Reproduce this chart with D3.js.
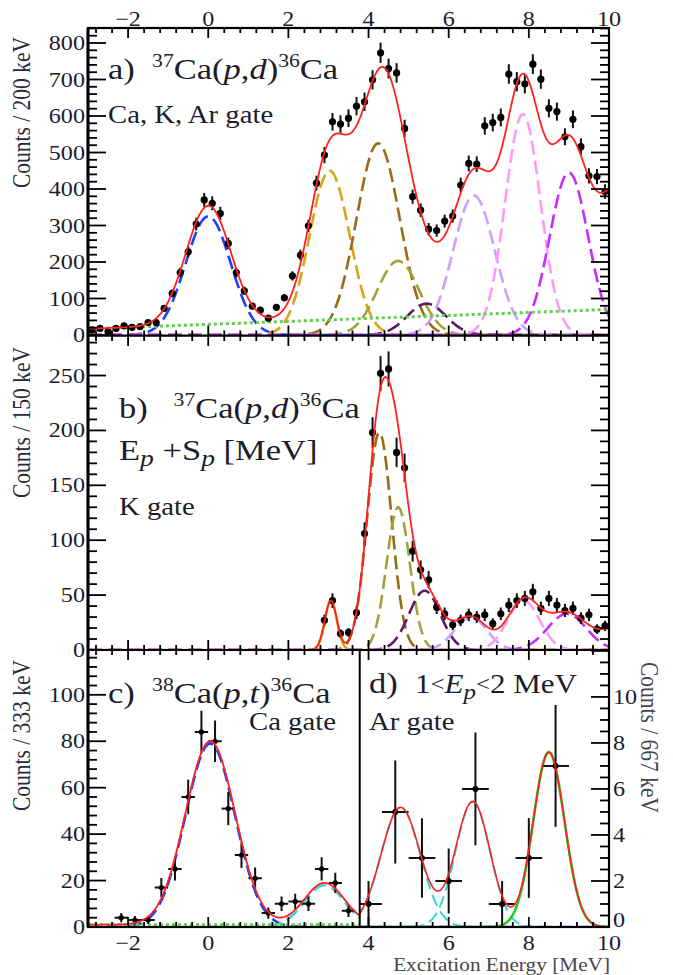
<!DOCTYPE html>
<html>
<head>
<meta charset="utf-8">
<script src="https://cdn.jsdelivr.net/npm/d3@7"></script>
<style>
  body { margin: 0; background: #fff; }
  text { font-family: "Liberation Serif", "Times New Roman", serif; fill: #1d1d2b; white-space: pre; }
</style>
</head>
<body>
<div id="graph"></div>
<script>
var W = 673, H = 975, sx = 1.15

// a) 37Ca(p,d) Ca,K,Ar gate, 200 keV bins
var energyA = [-2.9,-2.7,-2.5,-2.3,-2.1,-1.9,-1.7,-1.5,-1.3,-1.1,-0.9,-0.7,-0.5,-0.3,-0.1,0.1,0.3,0.5,0.7,0.9,
  1.1,1.3,1.5,1.7,1.9,2.1,2.3,2.5,2.7,2.9,3.1,3.3,3.5,3.7,3.9,4.1,4.3,4.5,4.7,4.9,
  5.1,5.3,5.5,5.7,5.9,6.1,6.3,6.5,6.7,6.9,7.1,7.3,7.5,7.7,7.9,8.1,8.3,8.5,8.7,8.9,9.1,9.3,9.5,9.7,9.9]
var countsA = [14,18,9,18,25,21,23,34,34,73,114,171,228,304,370,361,333,251,171,121,
  79,68,46,76,102,162,219,299,416,493,584,578,594,627,639,699,773,730,718,566,
  379,342,290,286,312,326,411,470,468,573,582,596,715,694,688,742,701,621,612,543,591,516,436,434,393]
var colorA = ['#1f3fff','#d9a514','#9a6b12','#a5a13a','#5e1a63','#c9a0ff','#fb9bf8','#c92cff']
var centerA = [0.0, 3.03, 4.24, 4.74, 5.45, 6.63, 7.85, 9.0]
var heightA = [325, 450, 525, 203, 86, 382, 605, 445]
var sigmaA = [0.56, 0.5, 0.54, 0.52, 0.48, 0.52, 0.44, 0.48]
var tailA = [10.35, 345, 0.55]     // peak above 10 MeV, only in the total fit
var bgA = [17, 70]                 // linear background at -3 and 10 MeV

// b) 37Ca(p,d) K gate
var energyB = [2.9,3.1,3.3,3.5,3.7,3.9,4.1,4.3,4.5,4.7,4.9,5.1,5.3,5.5,5.7,5.9,6.1,6.3,6.5,6.7,
  6.9,7.1,7.3,7.5,7.7,7.9,8.1,8.3,8.5,8.7,8.9,9.1,9.3,9.5,9.7,9.9]
var countsB = [27,45,15,16,34,106,198,252,256,180,166,90,73,64,39,33,23,27,32,30,
  32,24,33,41,45,47,53,38,47,41,36,38,29,32,19,22]
var colorB = ['#d9a514','#9a6b12','#a5a13a','#5e1a63','#c9a0ff','#fb9bf8','#c92cff']
var centerB = [3.06, 4.27, 4.74, 5.4, 6.55, 7.87, 8.95]
var heightB = [45, 198, 130, 54, 30, 45, 33]
var sigmaB = [0.15, 0.306, 0.29, 0.39, 0.4, 0.4, 0.48]
var tailB = [10.4, 22, 0.55]

// c) 38Ca(p,t) Ca gate, 333 keV bins
var energyC = [-2.17,-1.83,-1.5,-1.17,-0.83,-0.5,-0.17,0.17,0.5,0.83,1.17,1.5,1.83,2.17,2.5,2.83,3.17,3.5]
var countsC = [4,3,3,17,25,56,84,80,51,31,21,6,10,11,10,25,19,7]
var colorC = ['#1f3fff','#33dede']
var centerC = [0.05, 2.9]
var heightC = [79, 18]
var sigmaC = [0.62, 0.5]
var bgC = [1, 1]

// d) 1<Ep<2 MeV Ar gate, 667 keV bins
var energyD = [4, 4.667, 5.333, 6, 6.667, 7.333, 8, 8.667]
var countsD = [1, 5, 3, 2, 6, 1, 3, 7]
var colorD = ['#2fd6d6','#2fd6d6','#22cc22']
var centerD = [4.8, 6.6, 8.5]
var heightD = [5.2, 5.45, 7.6]
var sigmaD = [0.49, 0.43, 0.39]

var xTickLabels = [-2, 0, 2, 4, 6, 8, 10]
var yTicksA = [0,100,200,300,400,500,600,700,800]
var yTicksB = [0,50,100,150,200,250]
var yTicksC = [0,20,40,60,80,100]
var yTicksD = [0,2,4,6,8,10]

var x = d3.scaleLinear().domain([-3, 10]).range([88, 609])
var yA = d3.scaleLinear().domain([0, 840]).range([335, 28.4])
var yB = d3.scaleLinear().domain([0, 286]).range([650, 336])
var yC = d3.scaleLinear().domain([0, 119.3]).range([927, 650])
var yD = d3.scaleLinear().domain([0, 12.04]).range([927, 650])
var xCut = 3.78

var svg = d3.select('#graph').append('svg').attr('width', W).attr('height', H)
var defs = svg.append('defs')

function gauss(c, h, s){ return function(e){ return h * Math.exp(-(e - c) * (e - c) / (2 * s * s)) } }

function clip(id, x0, y0, x1, y1){
  defs.append('clipPath').attr('id', id).append('rect')
    .attr('x', x0).attr('y', y0).attr('width', x1 - x0).attr('height', y1 - y0)
  return 'url(#' + id + ')'
}

var grid = d3.range(-3, 10.0001, 0.02)

function curve(g, y, f, color, dash, w){
  g.append('path').datum(grid)
    .attr('d', d3.line().x(x).y(function(e){ return y(f(e)) }))
    .attr('fill', 'none').attr('stroke', color).attr('stroke-width', w)
    .attr('stroke-dasharray', dash)
}

function points(g, y, xs, ys, half, r){
  var sel = g.selectAll(null).data(xs.map(function(e, i){ return [e, ys[i]] })).enter().append('g')
  sel.append('line')
    .attr('x1', function(d){ return x(d[0]) }).attr('x2', function(d){ return x(d[0]) })
    .attr('y1', function(d){ return y(d[1] - Math.sqrt(d[1])) })
    .attr('y2', function(d){ return y(d[1] + Math.sqrt(d[1])) })
    .attr('stroke', '#111').attr('stroke-width', 2)
  if (half) sel.append('line')
    .attr('x1', function(d){ return x(d[0] - half) }).attr('x2', function(d){ return x(d[0] + half) })
    .attr('y1', function(d){ return y(d[1]) }).attr('y2', function(d){ return y(d[1]) })
    .attr('stroke', '#111').attr('stroke-width', 2)
  sel.append('circle').attr('cx', function(d){ return x(d[0]) }).attr('cy', function(d){ return y(d[1]) })
    .attr('r', r).attr('fill', '#000')
}

function text(x0, y0, size, parts, anchor, rot, color){
  var t = svg.append('text')
    .attr('transform', 'translate(' + x0 + ',' + y0 + ') scale(' + sx + ',1)' + (rot ? ' rotate(' + rot + ')' : ''))
    .attr('text-anchor', anchor || 'start')
    .style('font-size', size + 'px')
  if (color) t.style('fill', color)
  var shift = 0
  parts.forEach(function(p){
    var s = typeof p === 'string' ? {t: p} : p
    var target = s.sup ? -0.4 * size : s.sub ? 0.2 * size : -(s.up || 0)
    var k = s.sz || (s.sup ? 0.63 : s.sub ? 0.8 : 1)
    t.append('tspan').text(s.t)
      .attr('dy', target - shift)
      .style('font-size', k * size + 'px')
      .style('font-style', s.i ? 'italic' : null)
    shift = target
  })
  return t
}

// ---- panel a
var gA = svg.append('g').attr('clip-path', clip('ca', 88, 28, 609, 336))
var fA = centerA.map(function(c, i){ return gauss(c, heightA[i], sigmaA[i]) })
var bgFA = d3.scaleLinear().domain([-3, 10]).range(bgA)
var tFA = gauss(tailA[0], tailA[1], tailA[2])
fA.forEach(function(f, i){ curve(gA, yA, f, colorA[i], '14,6', 2.6) })
curve(gA, yA, bgFA, '#66cc55', '3,3', 3)
points(gA, yA, energyA, countsA, 0, 3.6)
curve(gA, yA, function(e){ return d3.sum(fA, function(f){ return f(e) }) + bgFA(e) + tFA(e) }, '#ff2020', null, 1.8)

// ---- panel b
var gB = svg.append('g').attr('clip-path', clip('cb', 88, 336, 609, 650))
var fB = centerB.map(function(c, i){ return gauss(c, heightB[i], sigmaB[i]) })
var tFB = gauss(tailB[0], tailB[1], tailB[2])
fB.forEach(function(f, i){ curve(gB, yB, f, colorB[i], i ? '14,6' : null, 2.6) })
points(gB, yB, energyB, countsB, 0, 3.6)
curve(gB, yB, function(e){ return d3.sum(fB, function(f){ return f(e) }) + tFB(e) }, '#ff2020', null, 1.8)

// ---- panel c
var gC = svg.append('g').attr('clip-path', clip('cc', 88, 650, x(xCut), 927))
var fC = centerC.map(function(c, i){ return gauss(c, heightC[i], sigmaC[i]) })
var bgFC = d3.scaleLinear().domain([-3, 10]).range(bgC)
fC.forEach(function(f, i){ curve(gC, yC, f, colorC[i], '14,6', 2.6) })
curve(gC, yC, bgFC, '#66cc55', '3,3', 3)
points(gC, yC, energyC, countsC, 0.167, 2.6)
curve(gC, yC, function(e){ return d3.sum(fC, function(f){ return f(e) }) + bgFC(e) }, '#ff2020', null, 1.8)

// ---- panel d
var gD = svg.append('g').attr('clip-path', clip('cd', x(xCut), 650, 609, 927))
var fD = centerD.map(function(c, i){ return gauss(c, heightD[i], sigmaD[i]) })
curve(gD, yD, fC[0], colorC[0], '14,6', 2.6)
fD.forEach(function(f, i){ curve(gD, yD, f, colorD[i], i < 2 ? '12,6' : null, i < 2 ? 2 : 2.6) })
points(gD, yD, energyD, countsD, 0.333, 3)
curve(gD, yD, function(e){ return d3.sum(fD, function(f){ return f(e) }) }, '#ff2020', null, 1.6)

// ---- frames and ticks
var frame = svg.append('g').attr('stroke', '#000').attr('fill', 'none')
function tick(x1, y1, x2, y2){ frame.append('line').attr('x1', x1).attr('y1', y1).attr('x2', x2).attr('y2', y2).attr('stroke-width', 1.8) }

function xTicks(yPix, dir, lo, hi){
  d3.range(-2.8, 10.001, 0.4).forEach(function(v){
    if (v < lo - 1e-6 || v > hi + 1e-6) return
    var major = Math.abs(v / 2 - Math.round(v / 2)) < 1e-6
    tick(x(v), yPix, x(v), yPix + dir * (major ? 10 : 5))
  })
}
function yTicks(y, xPix, dir, major, minor){
  var top = y.domain()[1]
  d3.range(0, top + 1e-6, minor).forEach(function(v){
    var isMajor = Math.abs(v / major - Math.round(v / major)) < 1e-6
    tick(xPix, y(v), xPix + dir * (isMajor ? 18 : 9), y(v))
  })
}

xTicks(28, 1, -3, 10); xTicks(335.5, -1, -3, 10)
xTicks(336, 1, -3, 10); xTicks(650, -1, -3, 10)
xTicks(650, 1, -3, 10); xTicks(927, -1, -3, 10)
yTicks(yA, 88, 1, 100, 20); yTicks(yA, 609, -1, 100, 20)
yTicks(yB, 88, 1, 50, 10); yTicks(yB, 609, -1, 50, 10)
yTicks(yC, 88, 1, 20, 4)
yTicks(yD, 609, -1, 2, 0.5)

frame.append('rect').attr('x', 88).attr('y', 28).attr('width', 521).attr('height', 899).attr('stroke-width', 2.2)
frame.append('line').attr('x1', 88).attr('x2', 609).attr('y1', 335.7).attr('y2', 335.7).attr('stroke-width', 2.2)
frame.append('line').attr('x1', 88).attr('x2', 609).attr('y1', 650).attr('y2', 650).attr('stroke-width', 2.2)
frame.append('line').attr('x1', x(xCut)).attr('x2', x(xCut)).attr('y1', 650).attr('y2', 927).attr('stroke-width', 2)
frame.append('line').attr('x1', 88).attr('x2', 88).attr('y1', 28).attr('y2', 927).attr('stroke-width', 3)

// ---- tick labels
function num(v){ return v < 0 ? '\u2212' + (-v) : String(v) }
xTickLabels.forEach(function(v){
  text(x(v), 26, 21, [num(v)], 'middle')
  text(x(v), 950, 21, [num(v)], 'middle')
})
yTicksA.forEach(function(v){ text(85, yA(v) + 7, 21, [num(v)], 'end') })
yTicksB.forEach(function(v){ text(85, yB(v) + 7, 21, [num(v)], 'end') })
yTicksC.forEach(function(v){ text(85, yC(v) + 7, 21, [num(v)], 'end') })
yTicksD.forEach(function(v){ text(613, yD(v) + (v ? 7 : -0.5), 21, [num(v)], 'start') })

// ---- axis titles
text(30, 37, 21.5, ['Counts / 200 keV'], 'end', -90, '#2a2a38')
text(30, 347, 21.5, ['Counts / 150 keV'], 'end', -90, '#2a2a38')
text(30, 660, 21.5, ['Counts / 333 keV'], 'end', -90, '#2a2a38')
text(641, 662, 21.5, ['Counts / 667 keV'], 'start', 90, '#45454f')
text(610, 971, 18.5, ['Excitation Energy [MeV]'], 'end', 0, '#4a4548')

// ---- panel labels
text(108, 79, 30, ['a)', '  ', {t: '37', sup: 1}, 'Ca(', {t: 'p', i: 1}, ',', {t: 'd', i: 1}, ')', {t: '36', sup: 1}, 'Ca'])
text(108, 123, 25, ['Ca, K, Ar gate'])
text(119, 418, 30, ['b)', '   ', {t: '37', sup: 1}, 'Ca(', {t: 'p', i: 1}, ',', {t: 'd', i: 1}, ')', {t: '36', sup: 1}, 'Ca'])
text(119, 460, 30, ['E', {t: 'p', i: 1, sub: 1}, ' +S', {t: 'p', i: 1, sub: 1}, ' [MeV]'])
text(119, 515, 25, ['K gate'])
text(108, 703, 30, ['c)', '  ', {t: '38', sup: 1}, 'Ca(', {t: 'p', i: 1}, ',', {t: 't', i: 1}, ')', {t: '36', sup: 1}, 'Ca'])
text(336, 730, 25, ['Ca gate'], 'end')
text(369, 693, 30, ['d)', '  ', {t: '1', sz: 0.9}, {t: '<', sz: 0.72, up: 2}, {t: 'E', i: 1, sz: 0.9},
  {t: 'p', i: 1, sub: 1, sz: 0.72}, {t: '<', sz: 0.72, up: 2}, {t: '2 MeV', sz: 0.9}])
text(369, 730, 25, ['Ar gate'])
</script>
</body>
</html>
